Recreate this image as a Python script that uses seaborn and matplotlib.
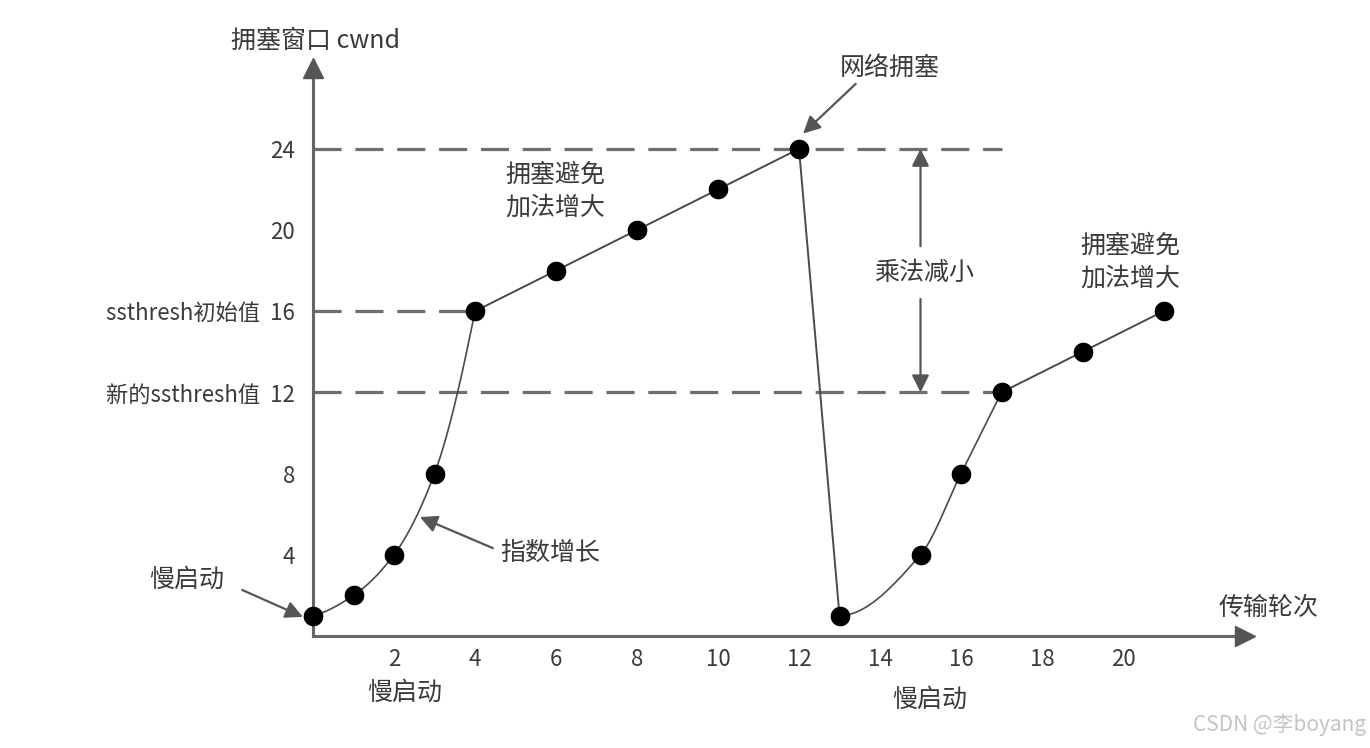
import numpy as np
import pandas as pd
import matplotlib
matplotlib.use("Agg")
import matplotlib.pyplot as plt
import seaborn as sns

# ---------------- data ----------------
rounds = [0, 1, 2, 3, 4, 6, 8, 10, 12, 13, 15, 16, 17, 19, 21]
cwnd = [1, 2, 4, 8, 16, 18, 20, 22, 24, 1, 4, 8, 12, 14, 16]

slow1_x = [0, 1, 2, 3, 4]
slow1_y = [1, 2, 4, 8, 16]
avoid1_x = [4, 6, 8, 10, 12, 13]
avoid1_y = [16, 18, 20, 22, 24, 1]
slow2_x = [13, 15, 16, 17]
slow2_y = [1, 4, 8, 12]
avoid2_x = [17, 19, 21]
avoid2_y = [12, 14, 16]

thresh_levels = [24, 16, 12]
thresh_ends = [17, 4, 17]

xticks = [2, 4, 6, 8, 10, 12, 14, 16, 18, 20]
yticks = [4, 8, 12, 16, 20, 24]
ytick_labels = ["4", "8", "新的ssthresh值  12", "ssthresh初始值  16", "20", "24"]

# ---------------- style ----------------
sns.set_theme(style="white")
FONT = ["Noto Sans CJK SC", "DejaVu Sans"]
plt.rcParams["font.family"] = FONT
plt.rcParams["axes.unicode_minus"] = False

AX_COL = "#666666"
TXT = "#3a3a3a"
LINE = "#4a4a4a"

fig = plt.figure(figsize=(13.7, 7.48), dpi=100)
ax = fig.add_axes([313 / 1370, 112 / 748, 931.5 / 1370, 568.4 / 748])
ax.set_xlim(0, 23)
ax.set_ylim(0, 28)


def pchip(x, y, n=200):
    """Shape-preserving cubic through the given points (rendering only)."""
    x = np.asarray(x, float)
    y = np.asarray(y, float)
    h = np.diff(x)
    d = np.diff(y) / h
    m = np.zeros_like(y)
    for k in range(1, len(x) - 1):
        if d[k - 1] * d[k] > 0:
            w1 = 2 * h[k] + h[k - 1]
            w2 = h[k] + 2 * h[k - 1]
            m[k] = (w1 + w2) / (w1 / d[k - 1] + w2 / d[k])

    def edge(h0, h1, d0, d1):
        v = ((2 * h0 + h1) * d0 - h0 * d1) / (h0 + h1)
        if np.sign(v) != np.sign(d0):
            v = 0.0
        elif np.sign(d0) != np.sign(d1) and abs(v) > abs(3 * d0):
            v = 3 * d0
        return v

    m[0] = edge(h[0], h[1], d[0], d[1])
    m[-1] = edge(h[-1], h[-2], d[-1], d[-2])
    xs, ys = [], []
    for k in range(len(x) - 1):
        t = np.linspace(0, 1, n)
        h00 = 2 * t**3 - 3 * t**2 + 1
        h10 = t**3 - 2 * t**2 + t
        h01 = -2 * t**3 + 3 * t**2
        h11 = t**3 - t**2
        xs.append(x[k] + t * h[k])
        ys.append(h00 * y[k] + h10 * h[k] * m[k] + h01 * y[k + 1] + h11 * h[k] * m[k + 1])
    return np.concatenate(xs), np.concatenate(ys)


# threshold dashed lines
for lvl, xe in zip(thresh_levels, thresh_ends):
    ax.plot([0, xe], [lvl, lvl], color="#6e6e6e", lw=2.3, dashes=(8.8, 4.3), zorder=1)

# smooth slow-start curves
for sx, sy in [(slow1_x, slow1_y), (slow2_x, slow2_y)]:
    cx, cy = pchip(sx, sy)
    ax.plot(cx, cy, color=LINE, lw=1.2, zorder=2)

# straight segments
for lx, ly in [(avoid1_x, avoid1_y), (avoid2_x, avoid2_y)]:
    sns.lineplot(x=lx, y=ly, sort=False, estimator=None, color=LINE, lw=1.4, ax=ax, zorder=2)

# points
pts = pd.DataFrame({"round": rounds, "cwnd": cwnd})
sns.scatterplot(data=pts, x="round", y="cwnd", s=200, color="black", edgecolor="black",
                linewidth=0, ax=ax, zorder=4, clip_on=False)

# axes / spines
for s in ["top", "right"]:
    ax.spines[s].set_visible(False)
for s in ["left", "bottom"]:
    ax.spines[s].set_color(AX_COL)
    ax.spines[s].set_linewidth(2.2)
ax.plot(1, 0, ">", transform=ax.transAxes, ms=15, color="#555555", clip_on=False, zorder=5)
ax.plot(0, 1, "^", transform=ax.transAxes, ms=15, color="#555555", clip_on=False, zorder=5)

ax.set_xticks(xticks)
ax.set_xticklabels([str(v) for v in xticks])
ax.set_yticks(yticks)
ax.set_yticklabels(ytick_labels)
ax.tick_params(axis="x", direction="in", length=11, width=2, color=AX_COL, pad=9,
               labelsize=16, labelcolor=TXT)
ax.tick_params(axis="y", direction="in", length=18, width=2, color=AX_COL, pad=13,
               labelsize=16, labelcolor=TXT)
ax.set_xlabel("")
ax.set_ylabel("")
ax.grid(False)

# ---------------- annotations ----------------
FS = 18
ax.text(0.05, 29.3, "拥塞窗口 cwnd", ha="center", va="center", fontsize=FS, color=TXT, clip_on=False)
ax.text(23.6, 1.4, "传输轮次", ha="center", va="center", fontsize=FS, color=TXT, clip_on=False)
ax.text(2.27, -2.8, "慢启动", ha="center", va="center", fontsize=FS, color=TXT, clip_on=False)
ax.text(15.23, -3.15, "慢启动", ha="center", va="center", fontsize=FS, color=TXT, clip_on=False)
ax.text(5.98, 21.9, "拥塞避免\n加法增大", ha="center", va="center", fontsize=FS, color=TXT,
        linespacing=1.35)
ax.text(20.17, 18.4, "拥塞避免\n加法增大", ha="center", va="center", fontsize=FS, color=TXT,
        linespacing=1.35)
ax.text(14.25, 28.0, "网络拥塞", ha="center", va="center", fontsize=FS, color=TXT, clip_on=False)
ax.text(-3.11, 2.76, "慢启动", ha="center", va="center", fontsize=FS, color=TXT, clip_on=False)
ax.text(5.85, 4.09, "指数增长", ha="center", va="center", fontsize=FS, color=TXT)
ax.text(15.1, 17.9, "乘法减小", ha="center", va="center", fontsize=FS, color=TXT)

arrow_kw = dict(arrowstyle="-|>", color="#555555", lw=1.6, mutation_scale=26, shrinkA=0, shrinkB=0)

ax.annotate("", xy=(12.1, 24.75), xytext=(13.4, 27.2), annotation_clip=False, arrowprops=arrow_kw)
ax.annotate("", xy=(-0.25, 0.94), xytext=(-1.75, 2.27), annotation_clip=False, arrowprops=arrow_kw)
ax.annotate("", xy=(2.64, 5.86), xytext=(4.44, 4.33), annotation_clip=False, arrowprops=arrow_kw)

# multiplicative decrease double arrow
ax.annotate("", xy=(15.0, 24), xytext=(15.0, 19.2), arrowprops=arrow_kw)
ax.annotate("", xy=(15.0, 12), xytext=(15.0, 16.6), arrowprops=arrow_kw)

fig.text(0.997, 0.031, "CSDN @李boyang", ha="right", va="center", fontsize=15, color="#c4c4c4")

fig.savefig("out.png", dpi=100, facecolor="white")
